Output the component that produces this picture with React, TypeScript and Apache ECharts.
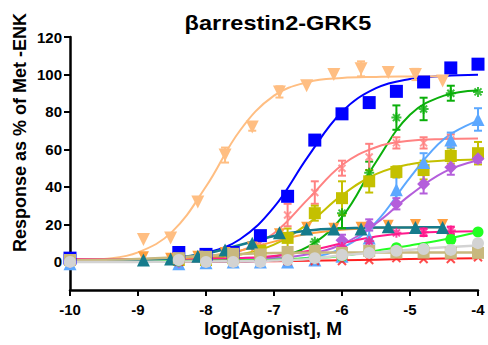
import React, { useEffect, useRef } from "react";
import * as echarts from "echarts";

const FONT = '"Liberation Sans", Arial, Helvetica, sans-serif';

const titleText = "βarrestin2-GRK5";
const xAxisTitle = "log[Agonist], M";
const yAxisTitle = "Response as % of Met -ENK";
const yTickValues = [0, 20, 40, 60, 80, 100, 120];

// concentration grids (log M)
const doseX = [-10, -8.4, -8.0, -7.6, -7.2, -6.8, -6.4, -6.0, -5.6, -5.2, -4.8, -4.4, -4.0];
const doseX30 = [-8.92, -8.52, -8.12, -7.72, -7.32, -6.92, -6.52, -6.12, -5.72, -5.32, -4.92, -4.52];
const curveX = [-10, -9.5, -9, -8.5, -8, -7.5, -7, -6.5, -6, -5.5, -5, -4.5, -4];
const curveX30 = [-10, -9.5, -9, -8.5, -8, -7.5, -7, -6.5, -6, -5.5, -5, -4.5];

// blue squares
const bluePts = [2, 5, 4, 5, 14, 35, 65, 79, 85, 91, 96, 103.5, 105.5];
const blueErr = [0, 0, 0, 0, 0, 0, 0, 0, 0, 0, 0, 0, 0];
const blueCurve = [1.0, 1.1, 1.4, 2.2, 4.8, 12.1, 29.2, 56.2, 80.1, 92.7, 97.6, 99.2, 99.8];

// light orange inverted triangles
const peachPts = [12, 12.8, 32, 57, 72, 90.7, 94, 100, 103, 101, 100, 96.5];
const peachErr = [0, 0, 0, 4, 2, 3, 0, 0, 4, 0, 3, 0];
const peachCurve = [0.4, 1.5, 5.1, 16.0, 40.2, 70.1, 88.7, 95.9, 98.1, 98.7, 98.9, 99.0];

// green asterisks
const greenPts = [0.5, 0.5, 0.5, 1, 1.5, 4, 10.7, 26, 47.5, 77, 81.6, 90, 90.7];
const greenErr = [0, 0, 0, 0, 0, 0, 0, 8, 6, 6.5, 6, 4, 0];
const greenCurve = [1.0, 1.0, 1.0, 1.0, 1.1, 1.5, 2.9, 8.1, 23.9, 53.3, 78.5, 88.7, 91.5];

// salmon
const salmonPts = [1, 1, 1.5, 3, 8, 25, 37, 50, 56, 63.5, 63.5, 65, null];
const salmonErr = [0, 0, 0, 0, 4, 6, 6, 4, 7, 3, 3, 3, 0];
const salmonCurve = [1.0, 1.0, 1.1, 1.4, 2.4, 5.8, 15.3, 33.5, 51.7, 61.2, 64.6, 65.6, 65.9];

// olive squares
const olivePts = [1, 1, 1, 2, 6, 12.8, 26, 34, 43, 48, 49, 56.5, 58];
const oliveErr = [0, 0, 0, 0, 0, 5, 4, 9, 6, 3, 5, 4, 6];
const oliveCurve = [1.0, 1.0, 1.1, 1.3, 1.9, 3.9, 9.2, 20.4, 35.6, 46.8, 52.1, 54.1, 54.7];

// light blue triangles
const skyPts = [-1, -1, -0.5, 0, 0, 0, 1, 3, 12.8, 38.5, 53, 65, 76];
const skyErr = [0, 0, 0, 0, 0, 0, 0, 0, 5, 8, 5, 4, 6];
const skyCurve = [0, 0, 0, 0, 0.05, 0.2, 0.7, 2.2, 7.3, 21.2, 45.0, 65.6, 75.4];

// purple diamonds
const purplePts = [0, 0, 0.5, 0.5, 1, 2, 4, 11.5, 19.7, 31, 41.5, 50.5, 55];
const purpleErr = [0, 0, 0, 0, 0, 0, 0, 3, 3, 3, 5, 4, 2];
const purpleCurve = [1.0, 1.0, 1.0, 1.0, 1.1, 1.4, 2.1, 4.1, 9.4, 20.5, 35.6, 47.9, 54.2];

// magenta asterisks
const magentaPts = [1, 1, 1, 1.5, 2, 3, 4.5, 8, 11, 15.5, 15.8, 16.8, 16];
const magentaErr = [0, 0, 0, 0, 0, 0, 0, 0, 0, 0, 2, 2, 0];
const magentaCurve = [1.5, 1.5, 1.5, 1.6, 1.7, 2.1, 3.2, 5.8, 9.9, 13.5, 15.4, 16.1, 16.4];

// bright green circles
const limePts = [0.5, 0.5, 0.5, 0.5, 1, 1.5, 2, 3, 5.5, 7.5, 7.5, 12, 16];
const limeErr = [0, 0, 0, 0, 0, 0, 0, 0, 0, 0, 0, 2, 0];
const limeCurve = [0.5, 0.5, 0.5, 0.6, 0.7, 0.9, 1.2, 1.9, 3.2, 6.0, 8.8, 12.0, 16.0];

// red crosses
const redPts = [0, 0, 0, 0, 0.5, 0.5, 0.5, 0.5, 1, 2, 1.5, 1.5, 2.5];
const redErr = [0, 0, 0, 0, 0, 0, 0, 0, 0, 0, 0, 0, 0];
const redCurve = [0, 0, 0, 0, 0.1, 0.2, 0.4, 0.6, 0.9, 1.2, 1.5, 1.8, 2.0];

// dark orange inverted triangles
const orangePts = [2.7, 2, 3, 5, 8, 15, 18.5, 18, 18.5, 19.5, 20, 20];
const orangeErr = [0, 0, 0, 0, 0, 0, 0, 0, 0, 0, 0, 0];
const orangeCurve = [1.0, 1.1, 1.2, 1.7, 3.0, 6.0, 10.8, 15.0, 17.2, 18.1, 18.4, 18.5];

// teal triangles
const tealPts = [1, 1.5, 3, 6.4, 10, 15.5, 17.6, 17.6, 17.6, 18.7, 18.3, 18.3];
const tealErr = [0, 0, 0, 0, 0, 0, 0, 0, 0, 0, 0, 0];
const tealCurve = [0.55, 0.66, 1.0, 2.0, 4.5, 9.0, 13.8, 16.7, 17.9, 18.3, 18.4, 18.5];

// tan squares
const tanPts = [1, 2, 2.7, 4.3, 4, 5.3, 5.9, 4.8, 5.9, 5, 5, 4.8, 4.8];
const tanErr = [0, 0, 0, 0, 0, 0, 0, 0, 0, 0, 0, 0, 0];
const tanCurve = [1.0, 1.2, 1.6, 2.3, 3.3, 4.2, 4.7, 4.9, 5.0, 5.0, 5.0, 5.0, 5.0];

// grey circles
const greyPts = [0, 1, 0, 0, 0, 1, 2, 3.7, 4.8, 5.9, 6.9, 6.4, 10];
const greyErr = [0, 0, 0, 0, 0, 0, 0, 0, 0, 0, 0, 0, 0];
const greyCurve = [0, 0, 0, 0.1, 0.2, 0.4, 0.8, 1.6, 3.5, 5.0, 6.5, 7.8, 8.8];

const ASTERISK = "path://M5,0L5,10M0,5L10,5M1.5,1.5L8.5,8.5M8.5,1.5L1.5,8.5";
const CROSS = "path://M0,0L10,10M10,0L0,10";

type Spec = {
  name: string;
  color: string;
  xs: number[];
  pts: (number | null)[];
  err: number[];
  cx: number[];
  curve: number[];
  symbol: string;
  size: number;
  rotate?: number;
  stroke?: boolean;
  lineWidth?: number;
};

const specs: Spec[] = [
  { name: "blue", color: "#0000FF", xs: doseX, pts: bluePts, err: blueErr, cx: curveX, curve: blueCurve, symbol: "rect", size: 13 },
  { name: "peach", color: "#FFBE82", xs: doseX30, pts: peachPts, err: peachErr, cx: curveX30, curve: peachCurve, symbol: "triangle", size: 13, rotate: 180 },
  { name: "green", color: "#0AAF0A", xs: doseX, pts: greenPts, err: greenErr, cx: curveX, curve: greenCurve, symbol: ASTERISK, size: 10, stroke: true },
  { name: "salmon", color: "#FF8282", xs: doseX, pts: salmonPts, err: salmonErr, cx: curveX, curve: salmonCurve, symbol: CROSS, size: 7, stroke: true },
  { name: "olive", color: "#C4C000", xs: doseX, pts: olivePts, err: oliveErr, cx: curveX, curve: oliveCurve, symbol: "rect", size: 12 },
  { name: "sky", color: "#5CA8FF", xs: doseX, pts: skyPts, err: skyErr, cx: curveX, curve: skyCurve, symbol: "triangle", size: 13 },
  { name: "purple", color: "#B45EDB", xs: doseX, pts: purplePts, err: purpleErr, cx: curveX, curve: purpleCurve, symbol: "diamond", size: 13 },
  { name: "magenta", color: "#FF1A8C", xs: doseX, pts: magentaPts, err: magentaErr, cx: curveX, curve: magentaCurve, symbol: ASTERISK, size: 10, stroke: true },
  { name: "lime", color: "#22FF22", xs: doseX, pts: limePts, err: limeErr, cx: curveX, curve: limeCurve, symbol: "circle", size: 11 },
  { name: "red", color: "#FF2020", xs: doseX, pts: redPts, err: redErr, cx: curveX, curve: redCurve, symbol: CROSS, size: 8, stroke: true },
  { name: "orange", color: "#FFA040", xs: doseX30, pts: orangePts, err: orangeErr, cx: curveX30, curve: orangeCurve, symbol: "triangle", size: 11, rotate: 180 },
  { name: "teal", color: "#157B8C", xs: doseX30, pts: tealPts, err: tealErr, cx: curveX30, curve: tealCurve, symbol: "triangle", size: 13, lineWidth: 2.5 },
  { name: "tan", color: "#C8B87E", xs: doseX, pts: tanPts, err: tanErr, cx: curveX, curve: tanCurve, symbol: "rect", size: 12, lineWidth: 2.5 },
  { name: "grey", color: "#D3D3D3", xs: doseX, pts: greyPts, err: greyErr, cx: curveX, curve: greyCurve, symbol: "circle", size: 12, lineWidth: 2.5 },
];

function buildSeries(s: Spec): any[] {
  const curveData = s.cx.map((x, i) => [x, s.curve[i]]);
  const ptData: number[][] = [];
  const errData: number[][] = [];
  s.xs.forEach((x, i) => {
    const y = s.pts[i];
    if (y === null || y === undefined) return;
    ptData.push([x, y]);
    if (s.err[i]) errData.push([x, y - s.err[i], y + s.err[i]]);
  });
  const color = s.color;
  return [
    {
      type: "line",
      name: s.name + "-fit",
      data: curveData,
      smooth: 0.4,
      showSymbol: false,
      symbol: "none",
      clip: false,
      silent: true,
      lineStyle: { color, width: s.lineWidth ?? 2 },
      z: 2,
    },
    {
      type: "custom",
      name: s.name + "-err",
      data: errData,
      clip: false,
      silent: true,
      z: 3,
      renderItem: (_params: any, api: any) => {
        const x = api.value(0);
        const p1 = api.coord([x, api.value(1)]);
        const p2 = api.coord([x, api.value(2)]);
        const w = 4;
        const style = { stroke: color, lineWidth: 2 };
        return {
          type: "group",
          children: [
            { type: "line", shape: { x1: p1[0], y1: p1[1], x2: p2[0], y2: p2[1] }, style },
            { type: "line", shape: { x1: p1[0] - w, y1: p1[1], x2: p1[0] + w, y2: p1[1] }, style },
            { type: "line", shape: { x1: p2[0] - w, y1: p2[1], x2: p2[0] + w, y2: p2[1] }, style },
          ],
        };
      },
    },
    {
      type: "scatter",
      name: s.name,
      data: ptData,
      symbol: s.symbol,
      symbolSize: s.size,
      symbolRotate: s.rotate ?? 0,
      clip: false,
      silent: true,
      z: 3,
      itemStyle: s.stroke
        ? { color, borderColor: color, borderWidth: 2 }
        : { color, opacity: 1 },
    },
  ];
}

export default function App() {
  const ref = useRef<HTMLDivElement>(null);
  useEffect(() => {
    if (!ref.current) return;
    const chart = echarts.init(ref.current, null, { renderer: "svg" });
    const series: any[] = [];
    specs.forEach((s) => series.push(...buildSeries(s)));
    chart.setOption({
      animation: false,
      backgroundColor: "#ffffff",
      grid: { left: 70, right: 10, top: 37, bottom: 55, containLabel: false },
      xAxis: {
        type: "value",
        min: -10,
        max: -4,
        interval: 1,
        axisLine: { show: true, onZero: false, lineStyle: { color: "#000", width: 2.5 } },
        axisTick: { show: true, length: 6, lineStyle: { color: "#000", width: 2 } },
        axisLabel: { color: "#000", fontFamily: FONT, fontWeight: "bold", fontSize: 15, margin: 12 },
        splitLine: { show: false },
      },
      yAxis: {
        type: "value",
        min: -15,
        max: 120,
        axisLine: { show: true, onZero: false, lineStyle: { color: "#000", width: 2.5 } },
        axisTick: { show: true, length: 6, customValues: yTickValues, lineStyle: { color: "#000", width: 2 } },
        axisLabel: { color: "#000", fontFamily: FONT, fontWeight: "bold", fontSize: 15, margin: 8, customValues: yTickValues },
        splitLine: { show: false },
      },
      graphic: [
        {
          type: "text",
          x: 278,
          y: 23,
          scaleX: 1.12,
          style: { text: titleText, font: `bold 21px ${FONT}`, fill: "#000", align: "center", verticalAlign: "middle" },
        },
        {
          type: "text",
          x: 273,
          y: 328,
          style: { text: xAxisTitle, font: `bold 19px ${FONT}`, fill: "#000", align: "center", verticalAlign: "middle" },
        },
        {
          type: "text",
          x: 19.5,
          y: 132.5,
          rotation: Math.PI / 2,
          style: { text: yAxisTitle, font: `bold 18px ${FONT}`, fill: "#000", align: "center", verticalAlign: "middle" },
        },
      ],
      series,
    });
    return () => chart.dispose();
  }, []);
  return <div ref={ref} style={{ width: 488, height: 345, position: "absolute", left: 0, top: 0 }} />;
}
